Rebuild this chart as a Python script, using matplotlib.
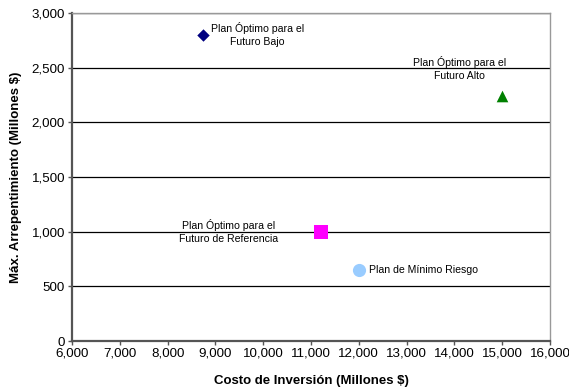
import matplotlib
matplotlib.use("Agg")
import matplotlib.pyplot as plt
from matplotlib.ticker import FuncFormatter, MultipleLocator

plt.rcParams['font.family'] = ['Liberation Sans', 'DejaVu Sans']

# Plans: investment cost vs. maximum regret (millions $)
plans = ["Plan Óptimo para el\nFuturo Bajo",
         "Plan Óptimo para el\nFuturo Alto",
         "Plan Óptimo para el\nFuturo de Referencia",
         "Plan de Mínimo Riesgo"]
costo = [8750, 15000, 11200, 12000]
arrepentimiento = [2800, 2240, 1000, 650]
markers = ["D", "^", "s", "o"]
colors = ["#000080", "#008000", "#FF00FF", "#99CCFF"]
sizes = [40, 70, 90, 90]

fig = plt.figure(figsize=(5.69, 3.90), dpi=100)
ax = fig.add_axes([72/569, 1 - 341/390, 478/569, 328/390])

for x, y, m, c, s in zip(costo, arrepentimiento, markers, colors, sizes):
    ax.scatter(x, y, marker=m, color=c, s=s, zorder=3, linewidths=0)

fs = 7.6
ls = 1.4
# label placement for each plan (offset in points, alignment)
ax.annotate(plans[0], (costo[0], arrepentimiento[0]), xytext=(39, 0),
            textcoords="offset points", ha="center", va="center",
            fontsize=fs, linespacing=ls)
ax.annotate(plans[1], (costo[1], arrepentimiento[1]), xytext=(-31, 20),
            textcoords="offset points", ha="center", va="center",
            fontsize=fs, linespacing=ls)
ax.annotate(plans[2], (costo[2], arrepentimiento[2]), xytext=(-66, 0),
            textcoords="offset points", ha="center", va="center",
            fontsize=fs, linespacing=ls)
ax.annotate(plans[3], (costo[3], arrepentimiento[3]), xytext=(7, 0),
            textcoords="offset points", ha="left", va="center",
            fontsize=fs, linespacing=ls)

ax.set_xlim(6000, 16000)
ax.set_ylim(0, 3000)
ax.xaxis.set_major_locator(MultipleLocator(1000))
ax.yaxis.set_major_locator(MultipleLocator(500))
fmt = FuncFormatter(lambda v, p: f"{int(v):,}")
ax.xaxis.set_major_formatter(fmt)
ax.yaxis.set_major_formatter(fmt)

for yv in range(500, 3001, 500):
    ax.axhline(yv, color="black", linewidth=0.9, zorder=1)

for s in ["top", "right"]:
    ax.spines[s].set_color("#999999")
    ax.spines[s].set_linewidth(1.0)
for s in ["left", "bottom"]:
    ax.spines[s].set_color("#555555")
    ax.spines[s].set_linewidth(1.6)

ax.tick_params(axis="both", direction="out", length=3, width=1, color="#555555",
               labelsize=9.6, pad=2)
ax.set_xlabel("Costo de Inversión (Millones $)", fontsize=9.5, fontweight="bold", labelpad=11)
ax.set_ylabel("Máx. Arrepentimiento (Millones $)", fontsize=9.5, fontweight="bold", labelpad=7)

fig.savefig("out.png", dpi=100)
